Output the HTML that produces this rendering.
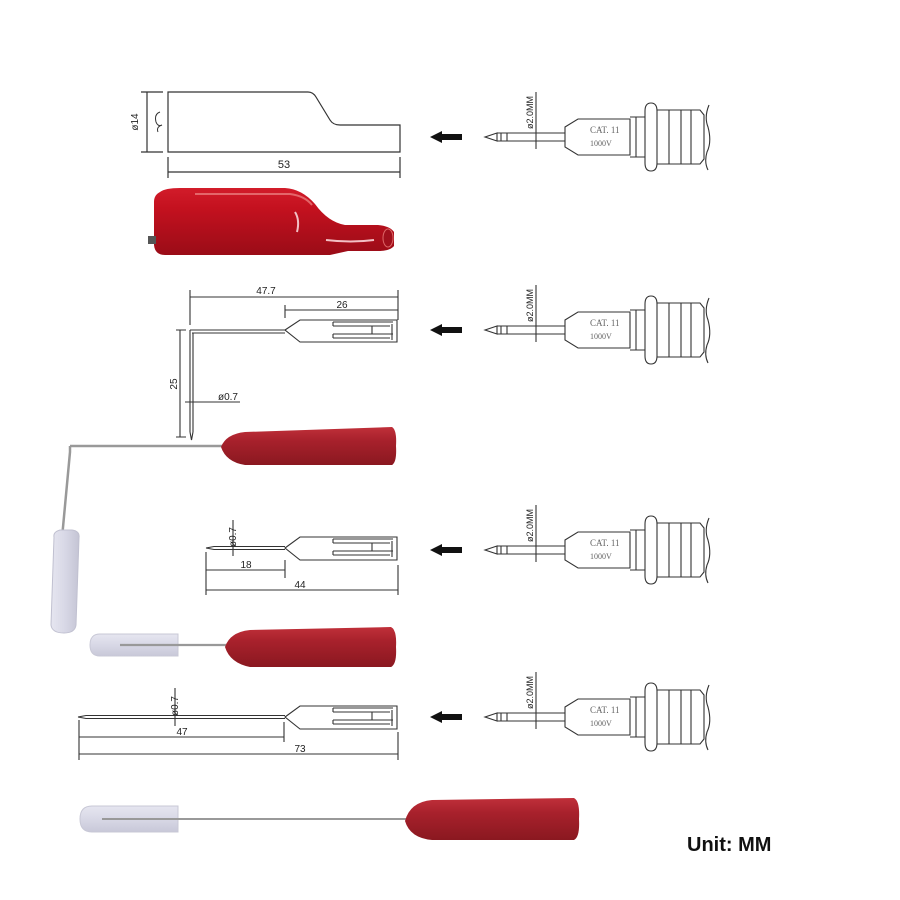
<!DOCTYPE html>
<html><head><meta charset="utf-8"><style>html,body{margin:0;padding:0;background:#fff}svg{display:block}</style></head>
<body>
<svg width="900" height="900" viewBox="0 0 900 900" xmlns="http://www.w3.org/2000/svg" font-family="Liberation Sans, sans-serif">
<defs>
<linearGradient id="red" x1="0" y1="0" x2="0" y2="1"><stop offset="0" stop-color="#c0303a"/><stop offset="0.35" stop-color="#a8212c"/><stop offset="1" stop-color="#8a1820"/></linearGradient>
<linearGradient id="red2" x1="0" y1="0" x2="0" y2="1"><stop offset="0" stop-color="#d21c2a"/><stop offset="0.3" stop-color="#c4111f"/><stop offset="1" stop-color="#9a0c17"/></linearGradient>
<linearGradient id="cap" x1="0" y1="0" x2="0" y2="1"><stop offset="0" stop-color="#e6e6f0"/><stop offset="0.5" stop-color="#d8d8e6"/><stop offset="1" stop-color="#c8c8d8"/></linearGradient>
<linearGradient id="capv" x1="0" y1="0" x2="1" y2="0"><stop offset="0" stop-color="#e6e6f0"/><stop offset="0.5" stop-color="#d8d8e6"/><stop offset="1" stop-color="#c4c4d4"/></linearGradient>
</defs>
<g stroke="#333" stroke-width="1.2" fill="none">
<path d="M168,92 H308 Q313,92 316,97 L330,120 Q333,125 340,125 H400 V152 H168 Z"/>
<path d="M160,112 q-6,2 -4,10 q2,5 6,3 M162,125 q-6,2 -4,7" stroke-width="1"/>
<path d="M147,92 V152 M141,92 H163 M141,152 H163"/>
<path d="M168,157 V178 M400,157 V178 M168,172 H400"/>
</g>
<text x="138" y="122" font-size="10" fill="#222" transform="rotate(-90 138 122)" text-anchor="middle">ø14</text>
<text x="284" y="168" font-size="11" fill="#222" text-anchor="middle">53</text>
<path d="M160,192 Q165,188 180,188 H285 Q302,189 315,204 Q328,222 345,225 H378 Q390,226 394,232 V246 Q390,251 378,251 H348 L330,255 H165 Q155,255 154,245 V202 Q154,195 160,192 Z" fill="url(#red2)"/>
<path d="M148,236 h8 v8 h-8 z" fill="#555"/>
<path d="M195,194 H290 Q305,196 312,205" stroke="#e88" stroke-width="2" fill="none" opacity=".7"/>
<path d="M295,212 q5,8 2,20 M326,240 q25,3 48,0" stroke="#f2c0c4" stroke-width="2" fill="none"/>
<ellipse cx="388" cy="238" rx="5" ry="9" fill="#a0101c" stroke="#d66" stroke-width="1"/>

<g stroke="#333" stroke-width="1.1" fill="none">
<path d="M190,330 H285 M192,333 H285"/>
<path d="M190,330 V432 M193,333 V432 M190,432 L191.5,440 L193,432"/>
<path d="M190,290 V325 M398,290 V320 M190,297 H398"/>
<path d="M285,305 V318 M285,310 H398"/>
<path d="M180,330 V437 M176,330 H186 M176,437 H186"/>
<path d="M185,402 H240"/>
<path d="M285,330 L300,320 H397 V342 H300 Z"/>
<path d="M333,322 H393 M333,326 H390 M333,334 H393 M333,338 H390 M333,322 V326 M333,334 V338 M372,326 V334 M392,324 V340"/>
</g>
<text x="266" y="294" font-size="10" fill="#222" text-anchor="middle">47.7</text>
<text x="342" y="308" font-size="10" fill="#222" text-anchor="middle">26</text>
<text x="177" y="384" font-size="10" fill="#222" text-anchor="middle" transform="rotate(-90 177 384)">25</text>
<text x="228" y="400" font-size="10" fill="#222" text-anchor="middle">ø0.7</text>
<path d="M70,446 H222 M70,446 V452 L62,538" stroke="#999" stroke-width="2.5" fill="none"/>
<path d="M54,537 Q53,532 60,530 H72 Q80,531 79,538 L76,625 Q75,633 64,633 Q52,633 51,625 Z" fill="url(#capv)" stroke="#c0c0d0" stroke-width="1"/>
<path d="M221,447 Q226,434 245,432 L392,427 Q397,430 396,446 Q397,462 392,465 L245,465 Q226,462 221,447 Z" fill="url(#red)"/>
<path d="M100,634 H178 V656 H100 Q90,656 90,645 Q90,634 100,634 Z" fill="url(#cap)" stroke="#c8c8d6" stroke-width="1"/>
<path d="M120,645 H226" stroke="#999" stroke-width="2.2"/>
<path d="M225,647 Q230,632 250,630 L391,627 Q397,630 396,647 Q397,664 391,667 L250,667 Q230,663 225,647 Z" fill="url(#red)"/>

<g stroke="#333" stroke-width="1.1" fill="none">
<path d="M206,548 L214,546.5 H285 M206,548 L214,549.5 H285"/>
<path d="M285,548 L300,537 H397 V560 H300 Z"/>
<path d="M333,539 H393 M333,543 H390 M333,551 H393 M333,555 H390 M333,539 V543 M333,551 V555 M372,543 V551 M392,541 V557"/>
<path d="M233,520 V556"/>
<path d="M206,552 V595 M285,560 V578 M398,565 V595 M206,570 H285 M206,590 H398"/>
</g>
<text x="236" y="537" font-size="10" fill="#222" text-anchor="middle" transform="rotate(-90 236 537)">ø0.7</text>
<text x="246" y="568" font-size="10" fill="#222" text-anchor="middle">18</text>
<text x="300" y="588" font-size="10" fill="#222" text-anchor="middle">44</text>

<g stroke="#333" stroke-width="1.1" fill="none">
<path d="M78,717 L86,715.5 H285 M78,717 L86,718.5 H285"/>
<path d="M285,717 L300,706 H397 V729 H300 Z"/>
<path d="M333,708 H393 M333,712 H390 M333,720 H393 M333,724 H390 M333,708 V712 M333,720 V724 M372,712 V720 M392,710 V726"/>
<path d="M175,688 V726"/>
<path d="M79,720 V760 M284,722 V742 M398,732 V760 M79,737 H284 M79,754 H398"/>
</g>
<text x="178" y="706" font-size="10" fill="#222" text-anchor="middle" transform="rotate(-90 178 706)">ø0.7</text>
<text x="182" y="735" font-size="10" fill="#222" text-anchor="middle">47</text>
<text x="300" y="752" font-size="10" fill="#222" text-anchor="middle">73</text>
<path d="M92,806 H178 V832 H92 Q80,832 80,819 Q80,806 92,806 Z" fill="url(#cap)" stroke="#c8c8d6" stroke-width="1"/>
<path d="M102,819 H408" stroke="#999" stroke-width="2"/>
<path d="M405,821 Q410,802 432,800 L574,798 Q580,801 579,819 Q580,837 574,840 L432,840 Q410,838 405,821 Z" fill="url(#red)"/>

<g fill="#111">
<path d="M430,137 L442,131 V134 H462 V140 H442 V143 Z"/>
<path d="M430,330 L442,324 V327 H462 V333 H442 V336 Z"/>
<path d="M430,550 L442,544 V547 H462 V553 H442 V556 Z"/>
<path d="M430,717 L442,711 V714 H462 V720 H442 V723 Z"/>
</g>

<g transform="translate(0,137)">
<g stroke="#333" stroke-width="1.1" fill="none">
<path d="M485,0 L497,-4 V4 Z M497,-4 H565 M497,4 H565 M501,-4 V4 M507,-4 V4"/>
<path d="M536,-45 V12"/>
<path d="M565,-10 L578,-18 H630 V18 H578 L565,10 Z"/>
<path d="M636,-20 V20 M630,-20 H645 M630,20 H645"/>
<path d="M651,-34 Q645,-34 645,-26 V26 Q645,34 651,34 Q657,34 657,26 V-26 Q657,-34 651,-34 Z"/>
<path d="M657,-27 H700 L704,-22 V22 L700,27 H657 M669,-27 V27 M681,-27 V27 M691,-27 V27"/>
<path d="M709,-32 Q704,-20 708,-10 Q712,5 707,15 Q704,25 708,33"/>
</g>
<text x="533" y="-8" font-size="9" fill="#222" transform="rotate(-90 533 -8)">ø2.0MM</text>
<text x="590" y="-4" font-size="9" fill="#666" font-family="Liberation Serif, serif">CAT. 11</text>
<text x="590" y="9" font-size="8" fill="#666" font-family="Liberation Serif, serif">1000V</text>
</g>
<g transform="translate(0,330)">
<g stroke="#333" stroke-width="1.1" fill="none">
<path d="M485,0 L497,-4 V4 Z M497,-4 H565 M497,4 H565 M501,-4 V4 M507,-4 V4"/>
<path d="M536,-45 V12"/>
<path d="M565,-10 L578,-18 H630 V18 H578 L565,10 Z"/>
<path d="M636,-20 V20 M630,-20 H645 M630,20 H645"/>
<path d="M651,-34 Q645,-34 645,-26 V26 Q645,34 651,34 Q657,34 657,26 V-26 Q657,-34 651,-34 Z"/>
<path d="M657,-27 H700 L704,-22 V22 L700,27 H657 M669,-27 V27 M681,-27 V27 M691,-27 V27"/>
<path d="M709,-32 Q704,-20 708,-10 Q712,5 707,15 Q704,25 708,33"/>
</g>
<text x="533" y="-8" font-size="9" fill="#222" transform="rotate(-90 533 -8)">ø2.0MM</text>
<text x="590" y="-4" font-size="9" fill="#666" font-family="Liberation Serif, serif">CAT. 11</text>
<text x="590" y="9" font-size="8" fill="#666" font-family="Liberation Serif, serif">1000V</text>
</g>
<g transform="translate(0,550)">
<g stroke="#333" stroke-width="1.1" fill="none">
<path d="M485,0 L497,-4 V4 Z M497,-4 H565 M497,4 H565 M501,-4 V4 M507,-4 V4"/>
<path d="M536,-45 V12"/>
<path d="M565,-10 L578,-18 H630 V18 H578 L565,10 Z"/>
<path d="M636,-20 V20 M630,-20 H645 M630,20 H645"/>
<path d="M651,-34 Q645,-34 645,-26 V26 Q645,34 651,34 Q657,34 657,26 V-26 Q657,-34 651,-34 Z"/>
<path d="M657,-27 H700 L704,-22 V22 L700,27 H657 M669,-27 V27 M681,-27 V27 M691,-27 V27"/>
<path d="M709,-32 Q704,-20 708,-10 Q712,5 707,15 Q704,25 708,33"/>
</g>
<text x="533" y="-8" font-size="9" fill="#222" transform="rotate(-90 533 -8)">ø2.0MM</text>
<text x="590" y="-4" font-size="9" fill="#666" font-family="Liberation Serif, serif">CAT. 11</text>
<text x="590" y="9" font-size="8" fill="#666" font-family="Liberation Serif, serif">1000V</text>
</g>
<g transform="translate(0,717)">
<g stroke="#333" stroke-width="1.1" fill="none">
<path d="M485,0 L497,-4 V4 Z M497,-4 H565 M497,4 H565 M501,-4 V4 M507,-4 V4"/>
<path d="M536,-45 V12"/>
<path d="M565,-10 L578,-18 H630 V18 H578 L565,10 Z"/>
<path d="M636,-20 V20 M630,-20 H645 M630,20 H645"/>
<path d="M651,-34 Q645,-34 645,-26 V26 Q645,34 651,34 Q657,34 657,26 V-26 Q657,-34 651,-34 Z"/>
<path d="M657,-27 H700 L704,-22 V22 L700,27 H657 M669,-27 V27 M681,-27 V27 M691,-27 V27"/>
<path d="M709,-32 Q704,-20 708,-10 Q712,5 707,15 Q704,25 708,33"/>
</g>
<text x="533" y="-8" font-size="9" fill="#222" transform="rotate(-90 533 -8)">ø2.0MM</text>
<text x="590" y="-4" font-size="9" fill="#666" font-family="Liberation Serif, serif">CAT. 11</text>
<text x="590" y="9" font-size="8" fill="#666" font-family="Liberation Serif, serif">1000V</text>
</g>

<text x="687" y="851" font-size="20" font-weight="bold" fill="#111">Unit: MM</text>
</svg>
</body></html>
